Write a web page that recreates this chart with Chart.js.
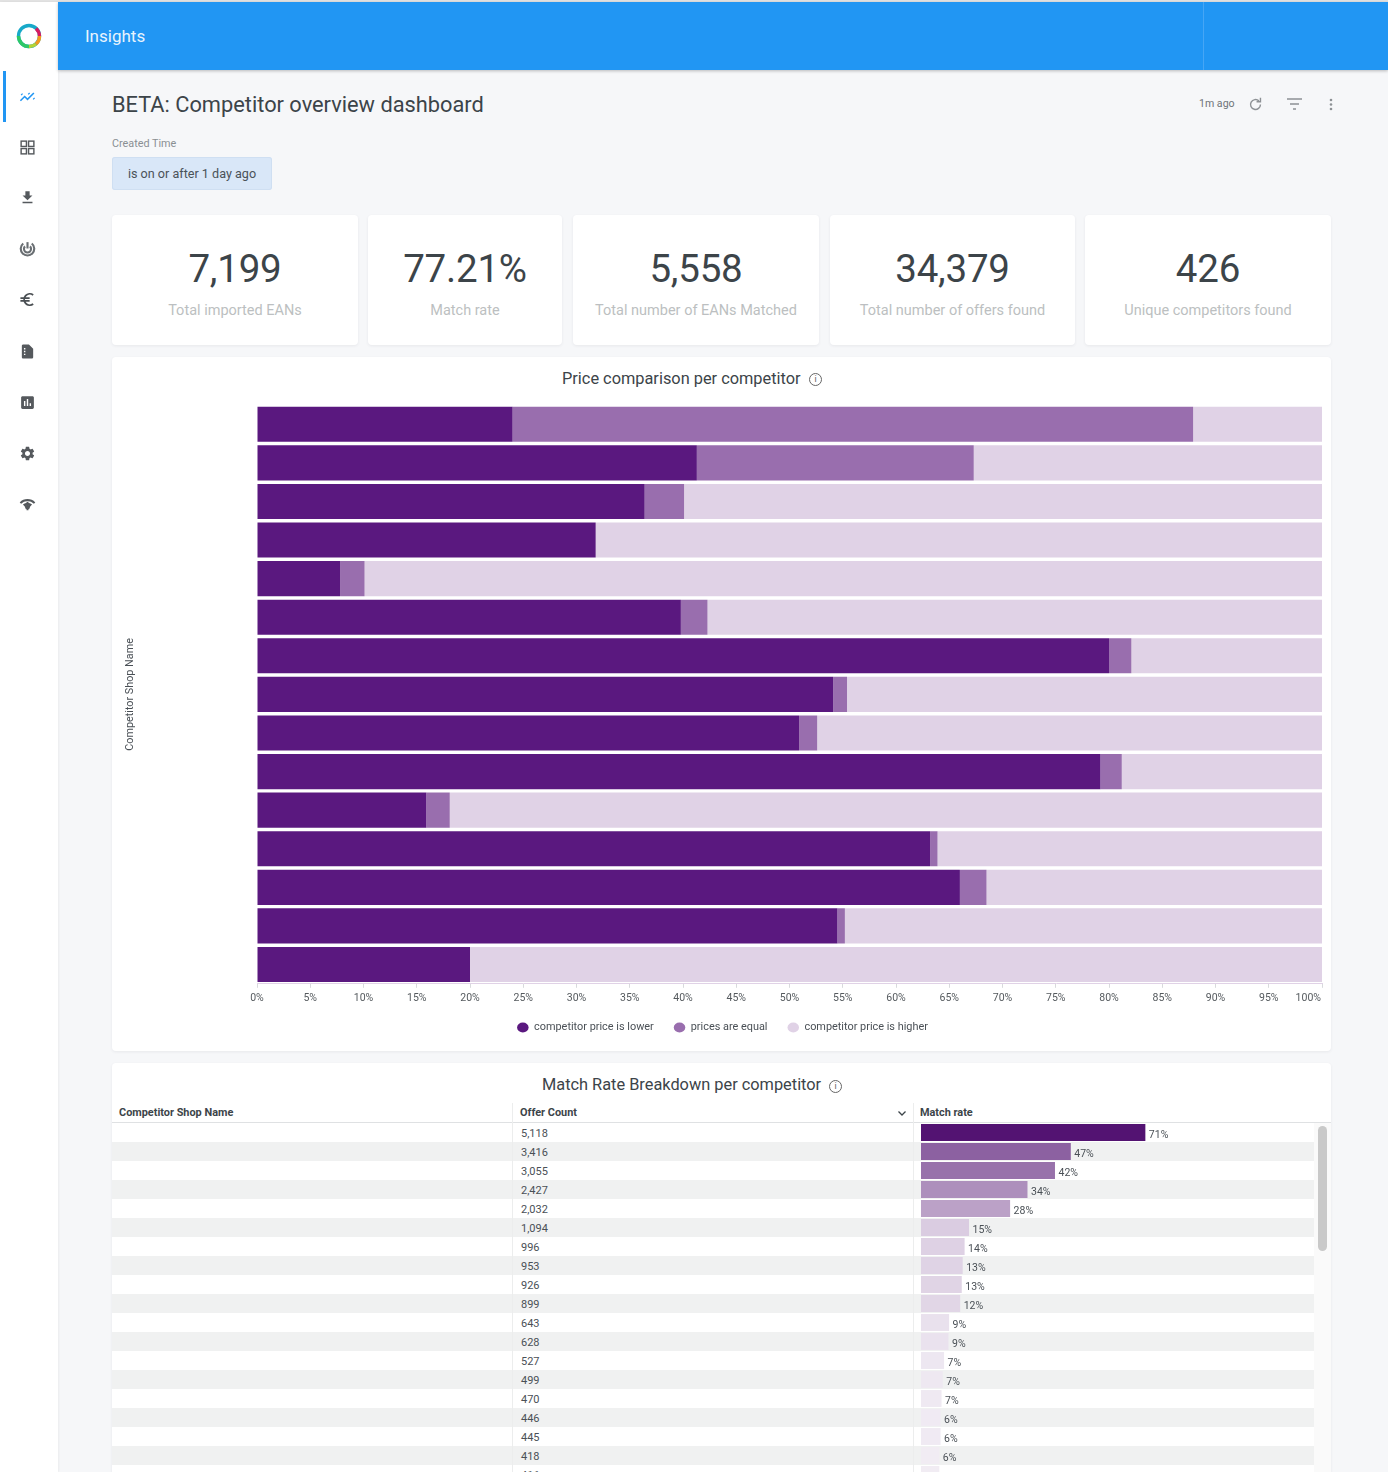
<!DOCTYPE html>
<html><head><meta charset="utf-8">
<script src="https://cdn.jsdelivr.net/npm/chart.js@4"></script>
<style>
html,body{margin:0;padding:0;width:1388px;height:1472px;overflow:hidden;background:#f6f7f9;font-family:Roboto,sans-serif;color:#3c4449}
.abs{position:absolute}
#top{left:0;top:0;width:1388px;height:2px;background:#e2e2e2}
#bar{left:58px;top:2px;width:1330px;height:68px;background:#2196f3;box-shadow:0 1px 3px rgba(0,0,0,.25)}
#bar .sep{position:absolute;left:1145px;top:0;width:1px;height:68px;background:#46a6f5}
#bar .t{position:absolute;left:27px;top:23px;font-size:17px;line-height:22px;color:#e8f3fd}
#side{left:0;top:2px;width:58px;height:1470px;background:#fff;box-shadow:1px 0 2px rgba(0,0,0,.05)}
#active{left:3px;top:71px;width:3px;height:51px;background:#2196f3}
.ic{position:absolute;left:19px;width:17px;height:17px;fill:#55595d}
h1{position:absolute;left:112px;top:91px;margin:0;font-size:21.8px;line-height:28px;font-weight:400;color:#3c4449}
.small{font-size:10.8px;color:#8a8f93}
#chip{left:112px;top:157px;width:160px;height:33px;line-height:33px;text-align:center;background:#d9e7f8;border:0;border-radius:3px;font-size:12.6px;color:#4a5258;box-shadow:inset 0 0 0 1px #cfdff2}
.card{position:absolute;background:#fff;border-radius:4px;box-shadow:0 1px 3px rgba(60,70,80,.08)}
.kpi{top:215px;height:130px;text-align:center}
.kpi .n{position:absolute;left:0;right:0;top:29px;font-size:38.5px;line-height:50px;color:#3c4449;letter-spacing:-.2px}
.kpi .l{position:absolute;left:0;right:0;top:87px;font-size:14.5px;line-height:18px;color:#bcbfc1}
.ctitle{position:absolute;font-size:16.35px;line-height:20px;color:#3c4449;white-space:nowrap}
.info{position:absolute;width:13px;height:13px;border:1.2px solid #666;border-radius:50%;box-sizing:border-box;font-size:9px;line-height:10px;text-align:center;color:#666}
#table{left:112px;top:1063px;width:1219px;height:420px;overflow:hidden;border-radius:4px 4px 0 0}
.th{position:absolute;top:43px;font-size:10.9px;font-weight:700;line-height:14px;color:#3c4449}
.hline{position:absolute;left:0;top:59px;width:1219px;height:1px;background:#dfe1e3}
.row{position:absolute;left:0;width:1202px;height:19px}
.row.alt{background:#f0f1f1}
.row span{position:absolute;left:409px;top:3px;font-size:11px;line-height:15px;color:#4a5056}
.vl{position:absolute;top:40px;width:1px;height:400px;background:#eceded}
#scrolltrack{position:absolute;left:1202px;top:60px;width:17px;height:360px;background:#fafafa}
#thumb{position:absolute;left:1206px;top:63px;width:9px;height:125px;border-radius:5px;background:#c9c9c9}
</style></head><body>
<div class="abs" id="top"></div>
<div class="abs" id="side">
  <svg class="abs" style="left:15px;top:20px" width="28" height="28" viewBox="0 0 28 28">
    <circle cx="14" cy="14" r="10.5" fill="none" stroke="#17a9c9" stroke-width="3.4"/>
    <path d="M14 24.5A10.5 10.5 0 0 1 3.5 14" fill="none" stroke="#2ec866" stroke-width="3.4"/>
    <path d="M21 22A10.5 10.5 0 0 1 14 24.5" fill="none" stroke="#b6d334" stroke-width="3.4"/>
    <path d="M24.5 14A10.5 10.5 0 0 1 21 22" fill="none" stroke="#f29a1f" stroke-width="3.4"/>
    <path d="M21 6.5A10.5 10.5 0 0 1 24.5 14" fill="none" stroke="#d81b60" stroke-width="3.4"/>
  </svg>
</div>
<div class="abs" id="active"></div>
<svg class="ic" style="top:88px;fill:none;stroke:#2196f3;stroke-width:2.2" viewBox="0 0 24 24"><path d="M2 18l6-6 4 4 9-9"/><path d="M3 10l2-2M13 9l2-2M20 16l2-2" stroke-width="1.8"/></svg>
<svg class="ic" style="top:139px;fill:none;stroke:#55595d;stroke-width:2" viewBox="0 0 24 24"><rect x="3" y="3" width="7.5" height="7.5"/><rect x="13.5" y="3" width="7.5" height="7.5"/><rect x="3" y="13.5" width="7.5" height="7.5"/><rect x="13.5" y="13.5" width="7.5" height="7.5"/></svg>
<svg class="ic" style="top:189px" viewBox="0 0 24 24"><path d="M19 9h-4V3H9v6H5l7 7 7-7zM5 18v2h14v-2H5z"/></svg>
<svg class="ic" style="top:240px;fill:none;stroke:#6a6f73;stroke-width:3" viewBox="0 0 24 24"><path d="M6 5A9.5 9.5 0 1 0 18 5"/><path d="M8.5 9A5 5 0 1 0 15.5 9"/><path d="M12 12V3"/></svg>
<svg class="ic" style="top:291px;fill:none;stroke:#4a4f53;stroke-width:2.6" viewBox="0 0 24 24"><path d="M20 5.5A8 8 0 1 0 20 18.5M2 10h13M2 14h13"/></svg>
<svg class="ic" style="top:343px" viewBox="0 0 24 24"><path d="M14 2H6c-1.1 0-2 .9-2 2v16c0 1.1.9 2 2 2h12c1.1 0 2-.9 2-2V8l-6-6zM7 11h2v2H7zM7 15h2v2H7zM7 7h2v2H7z" fill-rule="evenodd"/></svg>
<svg class="ic" style="top:394px" viewBox="0 0 24 24"><path d="M19 3H5c-1.1 0-2 .9-2 2v14c0 1.1.9 2 2 2h14c1.1 0 2-.9 2-2V5c0-1.1-.9-2-2-2zM9 17H7v-7h2v7zm4 0h-2V7h2v10zm4 0h-2v-4h2v4z"/></svg>
<svg class="ic" style="top:445px" viewBox="0 0 24 24"><path d="M19.14 12.94c.04-.3.06-.61.06-.94 0-.32-.02-.64-.07-.94l2.03-1.58a.49.49 0 0 0 .12-.61l-1.92-3.32a.488.488 0 0 0-.59-.22l-2.39.96c-.5-.38-1.03-.7-1.62-.94l-.36-2.54a.484.484 0 0 0-.48-.41h-3.84c-.24 0-.43.17-.47.41l-.36 2.54c-.59.24-1.13.57-1.62.94l-2.39-.96c-.22-.08-.47 0-.59.22L2.74 8.87c-.12.21-.08.47.12.61l2.03 1.58c-.05.3-.09.63-.09.94s.02.64.07.94l-2.03 1.58a.49.49 0 0 0-.12.61l1.92 3.32c.12.22.37.29.59.22l2.39-.96c.5.38 1.03.7 1.62.94l.36 2.54c.05.24.24.41.48.41h3.84c.24 0 .44-.17.47-.41l.36-2.54c.59-.24 1.13-.56 1.62-.94l2.39.96c.22.08.47 0 .59-.22l1.92-3.32c.12-.22.07-.47-.12-.61l-2.01-1.58zM12 15.6c-1.98 0-3.6-1.62-3.6-3.6s1.62-3.6 3.6-3.6 3.6 1.62 3.6 3.6-1.62 3.6-3.6 3.6z"/></svg>
<svg class="ic" style="top:496px;fill:none;stroke:#55595d;stroke-width:2.8" viewBox="0 0 24 24"><path d="M2 10a14 14 0 0 1 20 0M6.5 13a8 8 0 0 1 11 0M12 8v12M8 11l3 7M16 11l-3 7"/></svg>

<div class="abs" id="bar"><div class="t">Insights</div><div class="sep"></div></div>
<h1>BETA: Competitor overview dashboard</h1>
<div class="abs small" style="left:112px;top:137px;line-height:14px">Created Time</div>
<div class="abs" id="chip">is on or after 1 day ago</div>
<div class="abs" style="left:1199px;top:97px;font-size:10.6px;line-height:14px;color:#6f7478">1m ago</div>
<svg class="abs" style="left:1247px;top:96px;fill:none;stroke:#8d9195;stroke-width:2" width="17" height="17" viewBox="0 0 24 24"><path d="M19 12a7 7 0 1 1-2.2-5.1"/><path d="M19 2.5V8h-5.5" stroke-width="2"/></svg>
<svg class="abs" style="left:1287px;top:97px;fill:none;stroke:#8d9195;stroke-width:1.6" width="15" height="15" viewBox="0 0 15 15"><path d="M0 2h15M3 7h9M6 12h3"/></svg>
<svg class="abs" style="left:1329px;top:98px;fill:#8d9195" width="4" height="14" viewBox="0 0 4 14"><circle cx="2" cy="2" r="1.3"/><circle cx="2" cy="6.5" r="1.3"/><circle cx="2" cy="11" r="1.3"/></svg>

<div id="kpis"></div>

<div class="card" style="left:112px;top:357px;width:1219px;height:694px">
  <div class="ctitle" style="left:450px;top:12px">Price comparison per competitor</div>
  <div class="info" style="left:697px;top:16px">i</div>
  <div style="position:absolute;left:0;top:0;width:1219px;height:694px"><canvas id="priceChart"></canvas></div>
</div>

<div class="card abs" id="table">
  <div class="ctitle" style="left:430px;top:12px">Match Rate Breakdown per competitor</div>
  <div class="info" style="left:717px;top:17px">i</div>
  <div class="th" style="left:7px">Competitor Shop Name</div>
  <div class="th" style="left:408px">Offer Count</div>
  <svg style="position:absolute;left:785px;top:45px;fill:none;stroke:#3c4449;stroke-width:1.3" width="10" height="10" viewBox="0 0 10 10"><path d="M1.5 3.5L5 7l3.5-3.5"/></svg>
  <div class="th" style="left:808px">Match rate</div>
  <div class="hline"></div>
  <div id="rows"></div>
  <div class="vl" style="left:400px"></div>
  <div class="vl" style="left:801px"></div>
  <div id="scrolltrack"></div><div id="thumb"></div>
  <div style="position:absolute;left:809px;top:60px;width:316px;height:361px"><canvas id="rateChart"></canvas></div>
</div>

<script>
const FONT = 'Roboto, sans-serif';

// --- KPI tiles
const kpiValues = ['7,199', '77.21%', '5,558', '34,379', '426'];
const kpiLabels = ['Total imported EANs', 'Match rate', 'Total number of EANs Matched', 'Total number of offers found', 'Unique competitors found'];

// --- Price comparison (percent of offers per competitor; shop names are blanked in the source)
const competitors = ['', '', '', '', '', '', '', '', '', '', '', '', '', '', ''];
const priceLower  = [24.0, 41.3, 36.4, 31.8, 7.8, 39.8, 80.0, 54.1, 50.9, 79.2, 15.9, 63.2, 66.0, 54.5, 20.0];
const priceEqual  = [63.9, 26.0, 3.7, 0, 2.3, 2.5, 2.1, 1.3, 1.7, 2.0, 2.2, 0.7, 2.5, 0.7, 0];
const priceHigher = [12.1, 32.7, 59.9, 68.2, 89.9, 57.7, 17.9, 44.6, 47.4, 18.8, 81.9, 36.1, 31.5, 44.8, 80.0];
const seriesNames = ['competitor price is lower', 'prices are equal', 'competitor price is higher'];

// --- Match rate breakdown
const offerCounts = [5118, 3416, 3055, 2427, 2032, 1094, 996, 953, 926, 899, 643, 628, 527, 499, 470, 446, 445, 418, 416];
const matchRate   = [71.0, 47.4, 42.4, 33.7, 28.2, 15.2, 13.8, 13.2, 12.9, 12.4, 8.9, 8.7, 7.3, 6.9, 6.5, 6.2, 6.2, 5.8, 5.8];

// KPI cards
const kpiBoxes = [[112,246],[368,194],[573,246],[830,245],[1085,246]];
document.getElementById('kpis').innerHTML = kpiValues.map((v,i)=>
  `<div class="card kpi" style="left:${kpiBoxes[i][0]}px;width:${kpiBoxes[i][1]}px"><div class="n">${v}</div><div class="l">${kpiLabels[i]}</div></div>`).join('');

// Table rows
document.getElementById('rows').innerHTML = offerCounts.map((v,i)=>
  `<div class="row${i%2?' alt':''}" style="top:${60+i*19}px"><span>${v.toLocaleString('en-US')}</span></div>`).join('');

// Last tick label of the price axis sits flush right
const flushLastTick = {
  id:'flushLastTick',
  beforeDraw(chart){
    const s = chart.scales.x, items = s.getLabelItems(), last = items[items.length-1];
    if(last){ last.options.textAlign='right'; last.options.translation[0]=s.right-1; }
  }
};

new Chart(document.getElementById('priceChart'), {
  type:'bar',
  plugins:[flushLastTick],
  data:{
    labels:competitors,
    datasets:[
      {label:seriesNames[0], data:priceLower,  backgroundColor:'#5a187f'},
      {label:seriesNames[1], data:priceEqual,  backgroundColor:'#996eae'},
      {label:seriesNames[2], data:priceHigher, backgroundColor:'#e0d2e6'}
    ]
  },
  options:{
    indexAxis:'y', responsive:true, maintainAspectRatio:false, animation:false,
    layout:{padding:{left:11,right:9,top:48,bottom:8}},
    datasets:{bar:{categoryPercentage:1,barPercentage:0.91}},
    scales:{
      x:{stacked:true,min:0,max:100,
         grid:{drawOnChartArea:false,color:'#d8dadc',tickLength:4},
         border:{color:'#e0d2e6'},
         afterFit(s){s.height=18.3;s.paddingRight=0;s.paddingLeft=0;},
         ticks:{stepSize:5,maxRotation:0,autoSkip:false,padding:4,color:'#555a5e',font:{family:FONT,size:10.5},callback:v=>v+'%'}},
      y:{stacked:true,
         grid:{display:false},border:{display:false},
         ticks:{display:false},
         afterFit(s){s.width=134;},
         title:{display:true,text:'Competitor Shop Name',color:'#4a5056',font:{family:FONT,size:10.8},padding:{top:1,bottom:0}}}
    },
    plugins:{
      tooltip:{enabled:false},
      legend:{position:'bottom',labels:{usePointStyle:true,pointStyle:'circle',pointStyleWidth:11.5,boxHeight:7,padding:20,color:'#4a5056',font:{family:FONT,size:10.9}}}
    }
  }
});

// Value labels beside the match-rate bars
const barValueLabels = {
  id:'barValueLabels',
  afterDatasetsDraw(chart){
    const {ctx}=chart, meta=chart.getDatasetMeta(0);
    ctx.save();
    ctx.font='10.5px '+FONT; ctx.fillStyle='#4a5056'; ctx.textBaseline='middle'; ctx.textAlign='left';
    meta.data.forEach((b,i)=>ctx.fillText(Math.round(chart.data.datasets[0].data[i])+'%', b.x+3.5, b.y+3));
    ctx.restore();
  }
};
const maxRate = Math.max(...matchRate);
const shade = v => { const a=v/maxRate, m=c=>Math.round(255+(c-255)*a); return `rgb(${m(83)},${m(19)},${m(114)})`; };
new Chart(document.getElementById('rateChart'), {
  type:'bar',
  plugins:[barValueLabels],
  data:{
    labels:offerCounts.map(String),
    datasets:[{label:'Match rate',data:matchRate,backgroundColor:c=>shade(c.raw)}]
  },
  options:{
    indexAxis:'y',responsive:true,maintainAspectRatio:false,animation:false,
    layout:{padding:0},
    datasets:{bar:{categoryPercentage:1,barPercentage:0.89}},
    scales:{x:{display:false,min:0,max:100},y:{display:false}},
    plugins:{legend:{display:false},tooltip:{enabled:false}}
  }
});
</script>
</body></html>
